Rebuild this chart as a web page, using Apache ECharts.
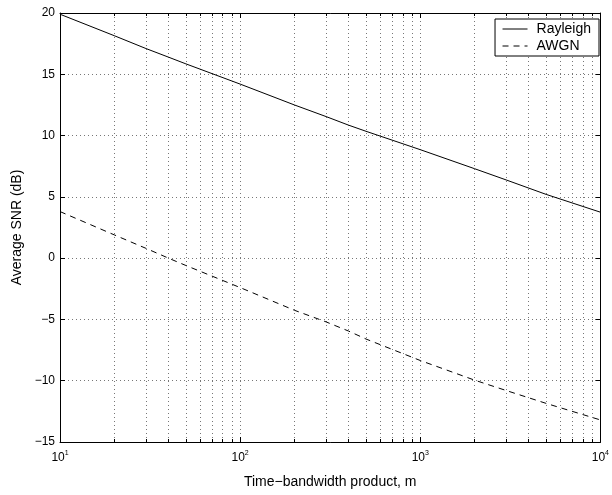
<!DOCTYPE html>
<html>
<head>
<meta charset="utf-8">
<script src="https://cdn.jsdelivr.net/npm/echarts@6/dist/echarts.min.js"></script>
<style>
html,body{margin:0;padding:0;background:#fff;}
#chart{width:612px;height:495px;}
</style>
</head>
<body>
<div id="chart"></div>
<script>
const mValues = [10, 20, 30, 40, 50, 100, 200, 300, 400, 500, 1000, 2000, 3000, 5000, 10000];
const rayleigh = [19.9, 18.15, 17.1, 16.4, 15.85, 14.2, 12.5, 11.55, 10.85, 10.35, 8.85, 7.3, 6.38, 5.2, 3.75];
const awgn = [3.8, 1.9, 0.8, 0.0, -0.6, -2.4, -4.25, -5.2, -5.95, -6.6, -8.35, -9.95, -10.8, -11.85, -13.2];
const seriesNames = ['Rayleigh', 'AWGN'];
const xName = 'Time\u2212bandwidth product, m';
const yName = 'Average SNR (dB)';
const yMin = -15, yMax = 20, yStep = 5;
const xMin = 10, xMax = 10000;

const FONT = "'Liberation Sans', Arial, Helvetica, sans-serif";
const dotted = { type: [1, 3], color: '#777', width: 1 };

const chart = echarts.init(document.getElementById('chart'), null, { renderer: 'canvas' });

const pairs = (ys) => mValues.map((m, i) => [m, ys[i]]);

const option = {
  backgroundColor: '#fff',
  animation: false,
  textStyle: { fontFamily: FONT },
  grid: { left: 60, right: 7, top: 13, bottom: 53, containLabel: false },
  legend: {
    right: 13, top: 19, orient: 'vertical',
    itemWidth: 25, itemHeight: 14, itemGap: 3,
    backgroundColor: '#fff', borderColor: '#000', borderWidth: 1,
    padding: [3, 8, 3, 7],
    itemStyle: { opacity: 0 },
    lineStyle: { width: 1 },
    textStyle: { fontFamily: FONT, fontSize: 14, color: '#000', padding: [0, 0, 0, 4] },
    data: seriesNames
  },
  xAxis: [
    {
      type: 'log', logBase: 10, min: xMin, max: xMax,
      name: xName, nameLocation: 'middle', nameGap: 33,
      nameTextStyle: { fontFamily: FONT, fontSize: 14, color: '#000' },
      axisLine: { onZero: false, lineStyle: { color: '#000', width: 1 } },
      axisTick: { inside: true, length: 5, lineStyle: { color: '#000' } },
      minorTick: { show: true, splitNumber: 9, length: 3, lineStyle: { color: '#000' } },
      splitLine: { show: true, lineStyle: dotted },
      minorSplitLine: { show: true, lineStyle: dotted },
      axisLabel: {
        margin: 8, color: '#000',
        formatter: (v) => '{b|10}{s|' + Math.round(Math.log10(v)) + '}',
        rich: {
          b: { fontFamily: FONT, fontSize: 12, color: '#000' },
          s: { fontFamily: FONT, fontSize: 7, color: '#000', padding: [0, 0, 8, 0] }
        }
      }
    },
    {
      type: 'log', logBase: 10, min: xMin, max: xMax, position: 'top',
      axisLine: { onZero: false, lineStyle: { color: '#000', width: 1 } },
      axisTick: { inside: true, length: 5, lineStyle: { color: '#000' } },
      minorTick: { show: true, splitNumber: 9, length: 3, lineStyle: { color: '#000' } },
      splitLine: { show: false }, axisLabel: { show: false }
    }
  ],
  yAxis: [
    {
      type: 'value', min: yMin, max: yMax, interval: yStep,
      name: yName, nameLocation: 'middle', nameGap: 36, nameRotate: 90,
      nameTextStyle: { fontFamily: FONT, fontSize: 14, color: '#000' },
      axisLine: { show: true, onZero: false, lineStyle: { color: '#000', width: 1 } },
      axisTick: { show: true, inside: true, length: 5, lineStyle: { color: '#000' } },
      splitLine: { show: true, lineStyle: dotted },
      axisLabel: { margin: 5, fontFamily: FONT, fontSize: 12, color: '#000',
        formatter: (v) => String(v).replace('-', '\u2212') }
    },
    {
      type: 'value', min: yMin, max: yMax, interval: yStep, position: 'right',
      axisLine: { show: true, onZero: false, lineStyle: { color: '#000', width: 1 } },
      axisTick: { show: true, inside: true, length: 5, lineStyle: { color: '#000' } },
      splitLine: { show: false }, axisLabel: { show: false }
    }
  ],
  series: [
    {
      name: seriesNames[0], type: 'line', data: pairs(rayleigh),
      symbol: 'none', smooth: false,
      lineStyle: { color: '#000', width: 1, type: 'solid' },
      itemStyle: { color: '#000' }
    },
    {
      name: seriesNames[1], type: 'line', data: pairs(awgn),
      symbol: 'none', smooth: false,
      lineStyle: { color: '#000', width: 1, type: [6, 5] },
      itemStyle: { color: '#000' }
    }
  ]
};
chart.setOption(option);
</script>
</body>
</html>
